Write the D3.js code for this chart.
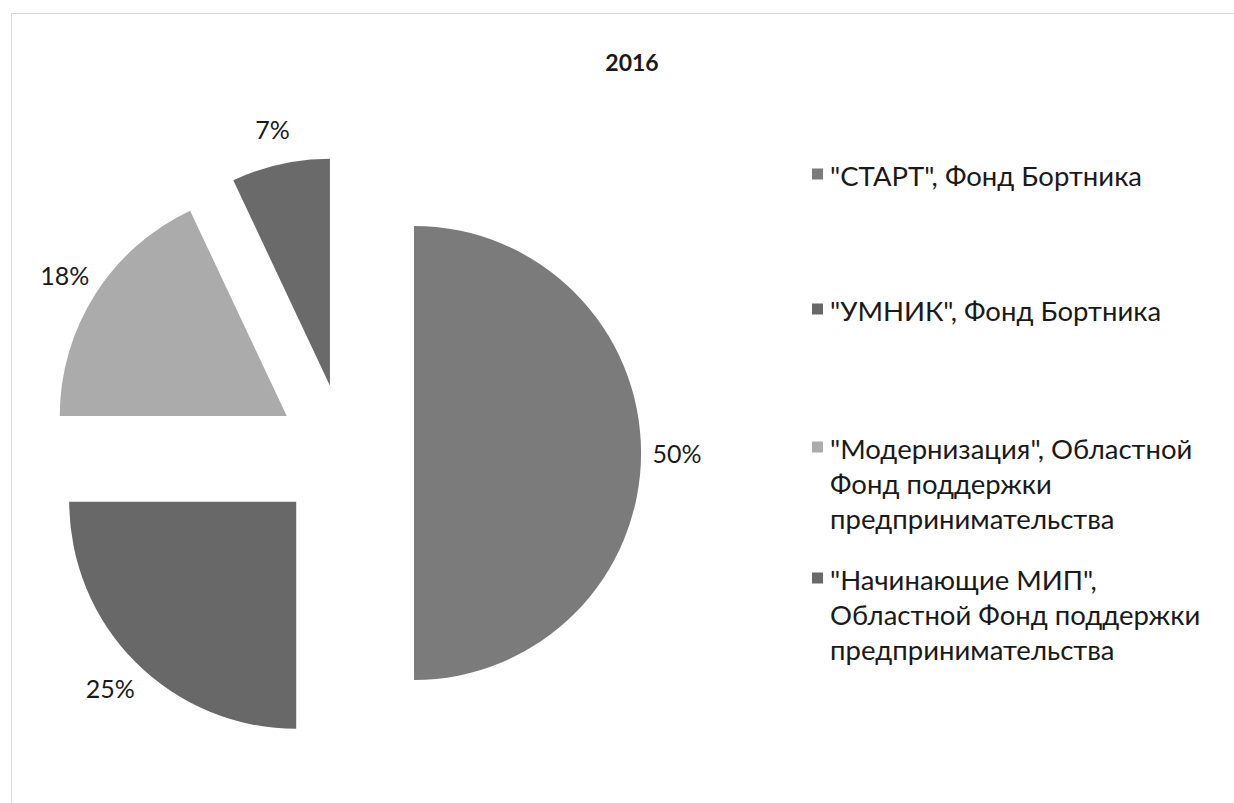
<!DOCTYPE html>
<html>
<head>
<meta charset="utf-8">
<script src="https://cdn.jsdelivr.net/npm/d3@7"></script>
<style>
  html, body { margin: 0; padding: 0; background: #ffffff; }
  svg { display: block; }
  text { font-family: Lato, "Open Sans", "Noto Sans", sans-serif; fill: #1a1a1a; }
</style>
</head>
<body>
<svg id="chart" width="1234" height="803"></svg>
<script>
// ---- data ----
const title = "2016";
const categories = [
  '"СТАРТ", Фонд Бортника',
  '"УМНИК", Фонд Бортника',
  '"Модернизация", Областной Фонд поддержки предпринимательства',
  '"Начинающие МИП", Областной Фонд поддержки предпринимательства'
];
const values = [50, 25, 18, 7];
const legendLines = [
  ['"СТАРТ", Фонд Бортника'],
  ['"УМНИК", Фонд Бортника'],
  ['"Модернизация", Областной', 'Фонд поддержки', 'предпринимательства'],
  ['"Начинающие МИП",', 'Областной Фонд поддержки', 'предпринимательства']
];
const colors = ['#7b7b7b', '#686868', '#ababab', '#6a6a6a'];

// ---- layout ----
const W = 1234, H = 803;
const cx = 345, cy = 453, R = 227, explode = 69, labelOffset = 36;
const legendX = 812, legendTextX = 830, legendFirstY = [175, 310, 448, 579], lineH = 35, markerSize = 11;

const svg = d3.select('#chart');

// chart area border
svg.append('rect')
  .attr('x', 11.5).attr('y', 13.5)
  .attr('width', W + 20).attr('height', H + 20)
  .attr('fill', 'none').attr('stroke', '#d9d9d9').attr('stroke-width', 1);

// title
svg.append('text')
  .attr('x', 632).attr('y', 62)
  .attr('text-anchor', 'middle').attr('dominant-baseline', 'central')
  .attr('font-size', 23).attr('font-weight', 'bold')
  .text(title);

const pie = d3.pie().sort(null).value(d => d)(values);
const arc = d3.arc().innerRadius(0).outerRadius(R);

const g = svg.append('g').attr('transform', `translate(${cx},${cy})`);

const slices = g.selectAll('g.slice').data(pie).join('g')
  .attr('class', 'slice')
  .attr('transform', d => {
    const a = (d.startAngle + d.endAngle) / 2;
    return `translate(${Math.sin(a) * explode},${-Math.cos(a) * explode})`;
  });

slices.append('path')
  .attr('d', arc)
  .attr('fill', (d, i) => colors[i]);

slices.append('text')
  .attr('x', d => Math.sin((d.startAngle + d.endAngle) / 2) * (R + labelOffset))
  .attr('y', d => -Math.cos((d.startAngle + d.endAngle) / 2) * (R + labelOffset))
  .attr('text-anchor', 'middle').attr('dominant-baseline', 'central')
  .attr('font-size', 25)
  .text(d => d3.format('.0%')(d.data / d3.sum(values)));

// legend
const leg = svg.append('g');
legendLines.forEach((lines, i) => {
  const y0 = legendFirstY[i];
  leg.append('rect')
    .attr('x', legendX).attr('y', y0 - markerSize / 2 - 1)
    .attr('width', markerSize).attr('height', markerSize)
    .attr('fill', colors[i]);
  lines.forEach((ln, j) => {
    leg.append('text')
      .attr('x', legendTextX).attr('y', y0 + j * lineH)
      .attr('dominant-baseline', 'central')
      .attr('font-size', 27.5)
      .text(ln);
  });
});
</script>
</body>
</html>
